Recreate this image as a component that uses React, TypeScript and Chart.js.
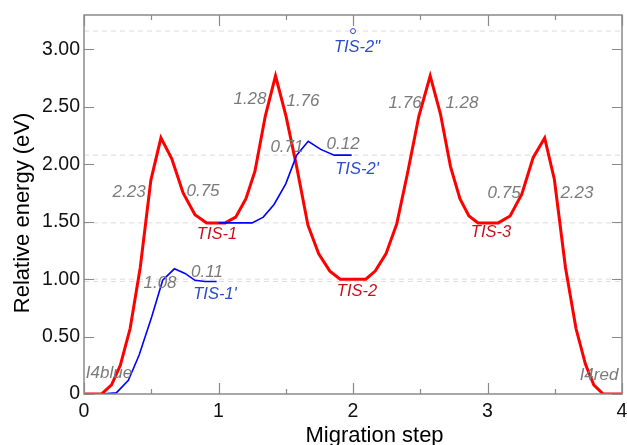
import React, { useEffect, useRef } from 'react';
import { Chart, registerables } from 'chart.js';

Chart.register(...registerables);

// ---- Data ----
const redSteps = [0, 0.13, 0.205, 0.27, 0.343, 0.418, 0.497, 0.572, 0.652, 0.737, 0.825, 0.912, 1.0, 1.05, 1.128, 1.204, 1.271, 1.348, 1.424, 1.502, 1.581, 1.665, 1.745, 1.828, 1.905, 2.095, 2.165, 2.245, 2.325, 2.405, 2.49, 2.574, 2.65, 2.725, 2.795, 2.862, 2.93, 3.0, 3.08, 3.168, 3.255, 3.34, 3.425, 3.497, 3.58, 3.658, 3.728, 3.79, 3.86, 4.0];
const redEnergy = [0, 0, 0.08, 0.25, 0.57, 1.10, 1.86, 2.23, 2.05, 1.75, 1.56, 1.49, 1.49, 1.49, 1.54, 1.70, 1.94, 2.42, 2.77, 2.42, 1.98, 1.47, 1.22, 1.07, 1.00, 1.00, 1.07, 1.22, 1.48, 1.92, 2.42, 2.77, 2.44, 1.98, 1.70, 1.55, 1.49, 1.49, 1.49, 1.55, 1.74, 2.06, 2.23, 1.87, 1.10, 0.57, 0.26, 0.08, 0, 0];

const blueSteps1 = [0.13, 0.24, 0.33, 0.41, 0.503, 0.585, 0.672, 0.751, 0.825, 0.9, 0.986];
const blueEnergy1 = [0, 0.01, 0.12, 0.34, 0.67, 0.99, 1.09, 1.05, 0.99, 0.98, 0.98];

const blueSteps2 = [1.0, 1.083, 1.167, 1.25, 1.333, 1.413, 1.5, 1.581, 1.667, 1.76, 1.86, 1.99];
const blueEnergy2 = [1.49, 1.49, 1.49, 1.49, 1.54, 1.65, 1.83, 2.08, 2.2, 2.13, 2.08, 2.08];

const tis2ppStep = [2.0];
const tis2ppEnergy = [3.16];

const refLevels = [3.16, 2.08, 1.49, 1.0, 0.98];

const xTickSteps = [0, 0.5, 1, 1.5, 2, 2.5, 3, 3.5, 4];
const yTickLevels = [0, 0.5, 1, 1.5, 2, 2.5, 3];

const barrierTexts = ['2.23', '0.75', '1.08', '0.11', '1.28', '1.76', '0.71', '0.12', '1.76', '1.28', '0.75', '2.23', 'I4blue', 'I4red'];
const barrierSteps = [0.335, 0.885, 0.565, 0.914, 1.234, 1.628, 1.509, 1.926, 2.387, 2.81, 3.123, 3.665, 0.186, 3.829];
const barrierEnergy = [1.755, 1.761, 0.968, 1.058, 2.563, 2.546, 2.145, 2.171, 2.528, 2.528, 1.752, 1.752, 0.183, 0.166];

const redStateTexts = ['TIS-1', 'TIS-2', 'TIS-3'];
const redStateSteps = [0.989, 2.03, 3.026];
const redStateEnergy = [1.386, 0.889, 1.404];

const blueStateTexts = ["TIS-1'", "TIS-2'", 'TIS-2"'];
const blueStateSteps = [0.974, 2.03, 2.03];
const blueStateEnergy = [0.863, 1.953, 3.017];

const zip = (xs: number[], ys: number[]) => xs.map((x, i) => ({ x, y: ys[i] }));

const FONT = '"Liberation Sans", Arial, Helvetica, sans-serif';

const framePlugin = {
  id: 'framePlugin',
  afterDatasetsDraw(chart: any) {
    const { ctx, chartArea: a, scales } = chart;
    const xs = scales.x;
    const ys = scales.y;
    ctx.save();
    // frame
    ctx.strokeStyle = '#8a8a8a';
    ctx.lineWidth = 1.5;
    ctx.strokeRect(a.left, a.top, a.right - a.left, a.bottom - a.top);
    // inward ticks
    ctx.lineWidth = 1.2;
    ctx.beginPath();
    xTickSteps.forEach((v) => {
      const px = Math.round(xs.getPixelForValue(v)) + 0.5;
      const len = Number.isInteger(v) ? 11 : 5;
      ctx.moveTo(px, a.bottom);
      ctx.lineTo(px, a.bottom - len);
      ctx.moveTo(px, a.top);
      ctx.lineTo(px, a.top + len);
    });
    yTickLevels.forEach((v) => {
      const py = Math.round(ys.getPixelForValue(v)) + 0.5;
      ctx.moveTo(a.left, py);
      ctx.lineTo(a.left + 10, py);
      ctx.moveTo(a.right, py);
      ctx.lineTo(a.right - 10, py);
    });
    ctx.stroke();

    // annotations
    ctx.textAlign = 'center';
    ctx.textBaseline = 'middle';
    ctx.font = `italic 17px ${FONT}`;
    ctx.fillStyle = '#7a7a7a';
    barrierTexts.forEach((t, i) => {
      ctx.fillText(t, xs.getPixelForValue(barrierSteps[i]), ys.getPixelForValue(barrierEnergy[i]));
    });
    ctx.font = `italic 16.5px ${FONT}`;
    ctx.fillStyle = '#c8101c';
    redStateTexts.forEach((t, i) => {
      ctx.fillText(t, xs.getPixelForValue(redStateSteps[i]), ys.getPixelForValue(redStateEnergy[i]));
    });
    ctx.fillStyle = '#2a4ccc';
    blueStateTexts.forEach((t, i) => {
      ctx.fillText(t, xs.getPixelForValue(blueStateSteps[i]), ys.getPixelForValue(blueStateEnergy[i]));
    });
    ctx.restore();
  },
  afterDraw(chart: any) {
    const { ctx, chartArea: a } = chart;
    ctx.save();
    ctx.fillStyle = '#000';
    ctx.font = `22px ${FONT}`;
    ctx.textAlign = 'center';
    ctx.textBaseline = 'alphabetic';
    ctx.fillText('Migration step', a.left + (a.right - a.left) * 0.54, 442);
    ctx.translate(23, a.top + (a.bottom - a.top) * 0.48 + 16);
    ctx.rotate(-Math.PI / 2);
    ctx.textBaseline = 'middle';
    ctx.fillText('Relative energy (eV)', 0, 0);
    ctx.restore();
  },
};

export default function App() {
  const ref = useRef<HTMLCanvasElement>(null);
  useEffect(() => {
    document.body.style.margin = '0';
    const canvas = ref.current;
    if (!canvas) return;
    const refSets = refLevels.map((lv) => ({
      data: [{ x: 0, y: lv }, { x: 4, y: lv }],
      borderColor: '#dcdcdc',
      borderWidth: 1,
      borderDash: [5, 4],
      pointRadius: 0,
      order: 10,
    }));
    const chart = new Chart(canvas, {
      type: 'line',
      data: {
        datasets: [
          ...refSets,
          {
            label: 'red',
            data: zip(redSteps, redEnergy),
            borderColor: '#ff0000',
            borderWidth: 3,
            pointRadius: 0,
            tension: 0,
            order: 3,
          },
          {
            label: 'blue1',
            data: zip(blueSteps1, blueEnergy1),
            borderColor: '#0000ff',
            borderWidth: 1.6,
            pointRadius: 0,
            tension: 0,
            order: 2,
          },
          {
            label: 'blue2',
            data: zip(blueSteps2, blueEnergy2),
            borderColor: '#0000ff',
            borderWidth: 1.6,
            pointRadius: 0,
            tension: 0,
            order: 2,
          },
          {
            label: 'TIS-2pp',
            data: zip(tis2ppStep, tis2ppEnergy),
            showLine: false,
            borderColor: '#3344ee',
            backgroundColor: '#ffffff',
            borderWidth: 1,
            pointRadius: 2.5,
            order: 1,
          },
        ] as any,
      },
      options: {
        responsive: false,
        animation: false,
        devicePixelRatio: 1,
        parsing: false as any,
        layout: { padding: { top: 15, right: 5, left: 0, bottom: 0 } },
        plugins: { legend: { display: false }, tooltip: { enabled: false } },
        scales: {
          x: {
            type: 'linear',
            min: 0,
            max: 4,
            grid: { display: false, drawTicks: false },
            border: { display: false },
            ticks: {
              stepSize: 1,
              padding: 6,
              color: '#111',
              font: { family: FONT, size: 19.5 },
            },
            afterFit: (s: any) => {
              s.height = 51;
              s.paddingLeft = 0;
              s.paddingRight = 0;
            },
          },
          y: {
            type: 'linear',
            min: 0,
            max: 3.3,
            grid: { display: false, drawTicks: false },
            border: { display: false },
            ticks: {
              stepSize: 0.5,
              includeBounds: false,
              padding: 4,
              color: '#111',
              font: { family: FONT, size: 19.5 },
              callback: (v: any) => (Number(v) === 0 ? '0' : Number(v).toFixed(2)),
            },
            afterFit: (s: any) => {
              s.width = 84;
              s.paddingTop = 0;
              s.paddingBottom = 0;
            },
          },
        },
      } as any,
      plugins: [framePlugin],
    });
    return () => chart.destroy();
  }, []);
  return (
    <div style={{ width: 627, height: 445 }}>
      <canvas ref={ref} width={627} height={445} style={{ display: 'block' }} />
    </div>
  );
}
